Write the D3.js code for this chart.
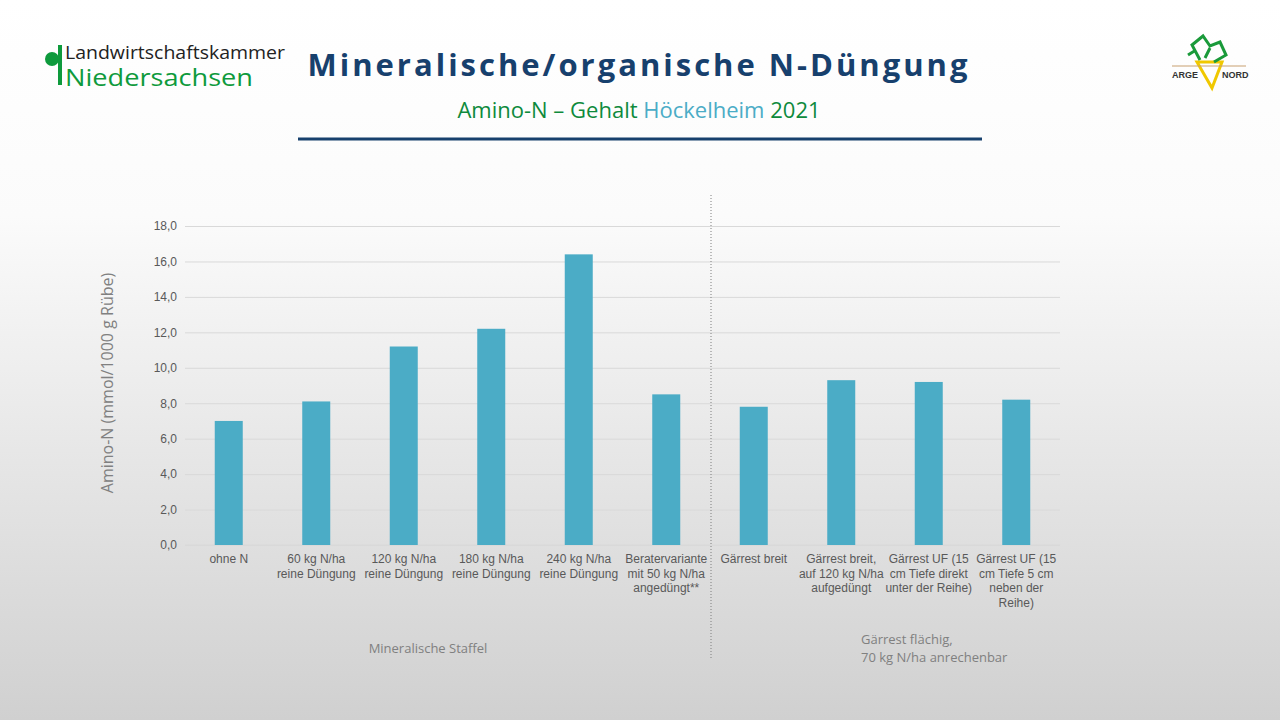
<!DOCTYPE html><html><head><meta charset="utf-8">
<script src="https://cdn.jsdelivr.net/npm/d3@7"></script>
<style>body{margin:0}svg{display:block}</style></head><body>
<svg id="c" width="1280" height="720"></svg>
<script>
const categories=[["ohne N"],["60 kg N/ha","reine Düngung"],["120 kg N/ha","reine Düngung"],["180 kg N/ha","reine Düngung"],["240 kg N/ha","reine Düngung"],["Beratervariante","mit 50 kg N/ha","angedüngt**"],["Gärrest breit"],["Gärrest breit,","auf 120 kg N/ha","aufgedüngt"],["Gärrest UF (15","cm Tiefe direkt","unter der Reihe)"],["Gärrest UF (15","cm Tiefe 5 cm","neben der","Reihe)"]];
const values=[7.0,8.1,11.2,12.2,16.4,8.5,7.8,9.3,9.2,8.2];
const yTicks=[0,2,4,6,8,10,12,14,16,18];
const svg=d3.select("#c");
const defs=svg.append("defs");
const g=defs.append("linearGradient").attr("id","bg").attr("x1",0).attr("x2",0).attr("y1",0).attr("y2",1);
g.append("stop").attr("offset","0").attr("stop-color","#ffffff");
g.append("stop").attr("offset","0.3").attr("stop-color","#fbfbfb");
g.append("stop").attr("offset","1").attr("stop-color","#d0d0d0");
svg.append("rect").attr("width",1280).attr("height",720).attr("fill","url(#bg)");
const x=d3.scaleBand().domain(d3.range(10)).range([185,1060]);
const y=d3.scaleLinear().domain([0,18]).range([545,226]);
const fmt=d=>d.toFixed(1).replace(".",",");
const ax=svg.append("g").attr("transform","translate(185,0)").call(d3.axisLeft(y).tickValues(yTicks).tickFormat(fmt).tickSize(-875));
ax.select(".domain").remove();
ax.selectAll(".tick line").attr("stroke","#d9d9d9");
ax.selectAll(".tick text").attr("x",-8).attr("fill","#595959").style("font","12px 'Liberation Sans',Arial");
svg.append("line").attr("x1",185).attr("x2",1060).attr("y1",545).attr("y2",545).attr("stroke","#d9d9d9");
svg.selectAll("rect.b").data(values).join("rect").attr("class","b")
 .attr("x",(d,i)=>x(i)+x.bandwidth()/2-14).attr("width",28)
 .attr("y",d=>y(d)).attr("height",d=>y(0)-y(d)).attr("fill","#4bacc6");
categories.forEach((lines,i)=>{
 const t=svg.append("text").attr("text-anchor","middle").attr("fill","#595959").style("font","12px 'Liberation Sans',Arial");
 lines.forEach((l,j)=>t.append("tspan").attr("x",x(i)+x.bandwidth()/2).attr("y",563+j*14.5).text(l));
});
svg.append("line").attr("x1",711).attr("x2",711).attr("y1",195).attr("y2",660).attr("stroke","#7f7f7f").attr("stroke-dasharray","1,2");
svg.append("text").attr("x",428).attr("y",653).attr("text-anchor","middle").attr("fill","#808080").style("font","13px 'Open Sans',sans-serif").text("Mineralische Staffel");
const t2=svg.append("text").attr("fill","#808080").style("font","13px 'Open Sans',sans-serif");
t2.append("tspan").attr("x",861).attr("y",644).text("Gärrest flächig,");
t2.append("tspan").attr("x",861).attr("y",662).text("70 kg N/ha anrechenbar");
svg.append("text").attr("transform","translate(113,383) rotate(-90)").attr("text-anchor","middle").attr("fill","#808080").style("font","16px 'Open Sans',sans-serif").text("Amino-N (mmol/1000 g Rübe)");
svg.append("text").attr("x",639).attr("y",76).attr("text-anchor","middle").attr("fill","#17406d").style("font","bold 31px 'Open Sans',sans-serif").style("letter-spacing","3px").text("Mineralische/organische N-Düngung");
const st=svg.append("text").attr("x",639).attr("y",118).attr("text-anchor","middle").style("font","22px 'Open Sans',sans-serif");
st.append("tspan").attr("fill","#0e8a3c").text("Amino-N – Gehalt ");
st.append("tspan").attr("fill","#4bacc6").text("Höckelheim ");
st.append("tspan").attr("fill","#0e8a3c").text("2021");
svg.append("line").attr("x1",298).attr("x2",982).attr("y1",139).attr("y2",139).attr("stroke","#17406d").attr("stroke-width",3);
// logo left
svg.append("circle").attr("cx",52).attr("cy",59).attr("r",7).attr("fill","#0e9a3c");
svg.append("rect").attr("x",58).attr("y",45).attr("width",4).attr("height",40).attr("fill","#0e9a3c");
svg.append("text").attr("x",65).attr("y",59).attr("fill","#222").attr("textLength",220).attr("lengthAdjust","spacingAndGlyphs").style("font","18px 'Open Sans',sans-serif").text("Landwirtschaftskammer");
svg.append("text").attr("x",65).attr("y",86).attr("fill","#0e9a3c").attr("textLength",188).attr("lengthAdjust","spacingAndGlyphs").style("font","23px 'Open Sans',sans-serif").text("Niedersachsen");
// logo right
svg.append("path").attr("d","M1197,62 L1212,88 L1222,62 Z").attr("fill","none").attr("stroke","#f0c800").attr("stroke-width",3);
svg.append("path").attr("d","M1200,60 L1192,45 L1203,36 L1210,46 L1220,42 L1226,55 L1214,62 M1205,58 L1210,48 M1188,55 L1196,50").attr("fill","none").attr("stroke","#1a9a3a").attr("stroke-width",3);
svg.append("line").attr("x1",1172).attr("x2",1246).attr("y1",66).attr("y2",66).attr("stroke","#c8a070").attr("stroke-width",1);
svg.append("text").attr("x",1172).attr("y",78).attr("fill","#333").style("font","bold 9px 'Liberation Sans',Arial").text("ARGE");
svg.append("text").attr("x",1222).attr("y",78).attr("fill","#333").style("font","bold 9px 'Liberation Sans',Arial").text("NORD");
</script></body></html>
